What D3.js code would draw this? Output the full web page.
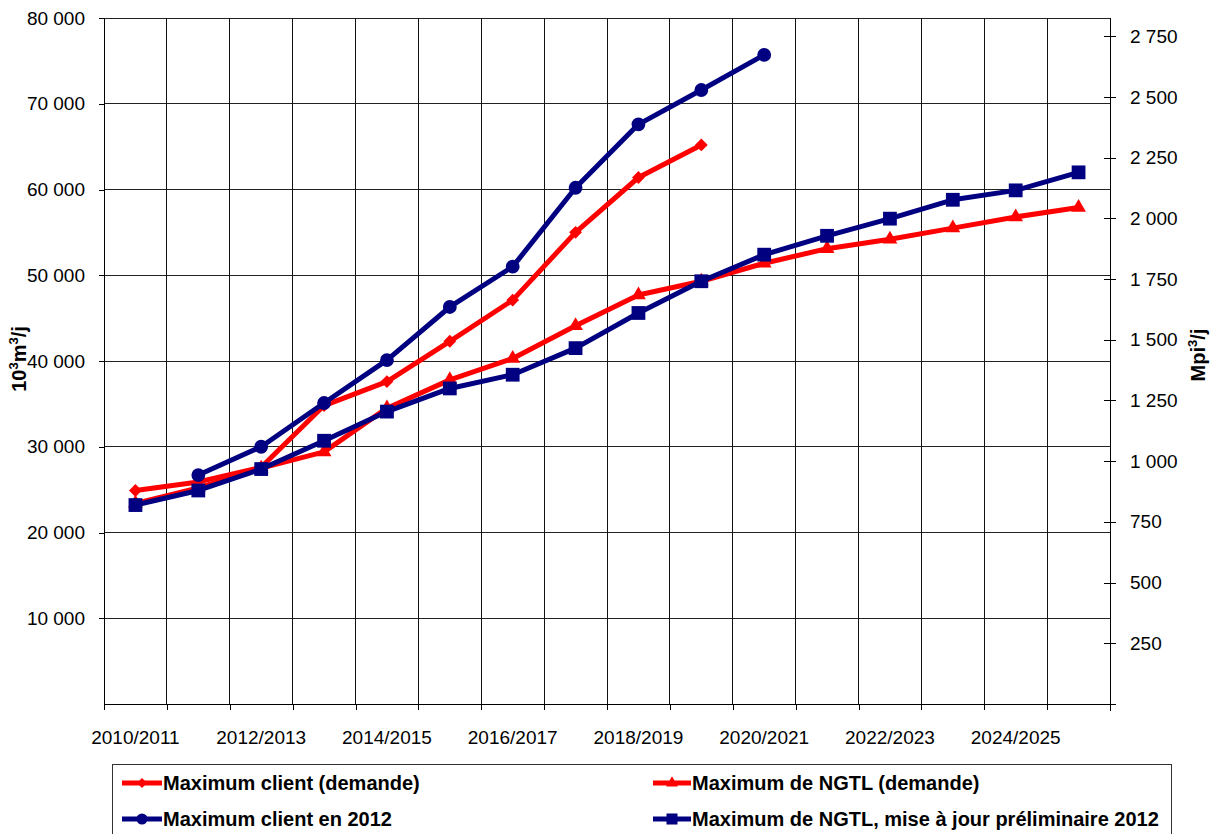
<!DOCTYPE html>
<html>
<head>
<meta charset="utf-8">
<script src="https://cdn.jsdelivr.net/npm/d3@7"></script>
<style>
  body { margin: 0; background: #fff; }
  svg { display: block; font-family: Arial, "Liberation Sans", sans-serif; }
</style>
</head>
<body>
<svg width="1211" height="834"></svg>
<script>
const years = ["2010/2011", "2011/2012", "2012/2013", "2013/2014", "2014/2015", "2015/2016",
  "2016/2017", "2017/2018", "2018/2019", "2019/2020", "2020/2021", "2021/2022",
  "2022/2023", "2023/2024", "2024/2025", "2025/2026"];

// 10^3 m3/j
const clientDemand = [24900, 25900, 27600, 34800, 37600, 42300, 47100, 55000, 61400, 65200];
const ngtlDemand = [23400, 25200, 27500, 29400, 34500, 37800, 40300, 44100, 47700, 49300,
  51400, 53100, 54200, 55500, 56800, 57900];
const client2012 = [null, 26700, 30000, 35100, 40100, 46300, 51000, 60200, 67600, 71600, 75700];
const ngtlUpdate2012 = [23200, 24900, 27400, 30700, 34100, 36800, 38400, 41500, 45600, 49300,
  52400, 54600, 56600, 58800, 59900, 62000];

const leftTicks = [10000, 20000, 30000, 40000, 50000, 60000, 70000, 80000];
const rightTicks = [0, 250, 500, 750, 1000, 1250, 1500, 1750, 2000, 2250, 2500, 2750];
const m3ToMcf = 0.0353147; // 10^3 m3 -> Mpi3

const svg = d3.select("svg");
const plotL = 104, plotR = 1110, plotT = 18, plotB = 704;

const fr = d3.formatLocale({ decimal: ",", thousands: " ", grouping: [3], currency: ["", ""] });
const fmt = fr.format(",");

const x = d3.scaleBand().domain(years).range([plotL, plotR]);
const xi = d3.scaleLinear().domain([0, years.length]).range([plotL, plotR]);
const y = d3.scaleLinear().domain([0, 80000]).range([plotB, plotT]);
const yR = d3.scaleLinear().domain([0, 80000 * m3ToMcf]).range([plotB, plotT]);

svg.append("rect").attr("width", 1211).attr("height", 834).attr("fill", "#fff");

// grid
const grid = svg.append("g").attr("shape-rendering", "crispEdges");
grid.selectAll(".hg")
  .data(leftTicks)
  .join("line")
  .attr("x1", plotL).attr("x2", plotR)
  .attr("y1", d => y(d)).attr("y2", d => y(d))
  .attr("stroke", "#222");
grid.selectAll(".vg")
  .data(d3.range(1, years.length))
  .join("line")
  .attr("x1", d => xi(d)).attr("x2", d => xi(d))
  .attr("y1", plotT).attr("y2", plotB)
  .attr("stroke", "#111");

// left axis
const yAxis = svg.append("g")
  .attr("transform", `translate(${plotL},0)`)
  .call(d3.axisLeft(y).tickValues(leftTicks).tickSize(5).tickPadding(14).tickFormat(fmt));
yAxis.select(".domain").attr("d", `M0,${plotT}V${plotB}`);

// right axis
const yAxisR = svg.append("g")
  .attr("transform", `translate(${plotR},0)`)
  .call(d3.axisRight(yR).tickValues(rightTicks).tickSize(6).tickPadding(14)
    .tickFormat(d => d === 0 ? "" : fmt(d)));
yAxisR.selectAll(".tick line").attr("x1", -6);
yAxisR.select(".domain").attr("d", `M0,${plotT}V${plotB + 7}`);

// bottom axis: tick marks at category boundaries, labels every other year
const xTicks = svg.append("g")
  .attr("transform", `translate(0,${plotB})`)
  .call(d3.axisBottom(xi).ticks(years.length).tickSize(6).tickFormat(""));
xTicks.select(".domain").attr("d", `M${plotL},0H${plotR}`);

svg.append("g")
  .attr("transform", `translate(0,${plotB})`)
  .call(d3.axisBottom(x).tickSize(0).tickPadding(27)
    .tickFormat((d, i) => i % 2 === 0 ? d : ""))
  .call(g => g.select(".domain").remove());

svg.selectAll(".tick text")
  .attr("font-size", 19)
  .attr("font-family", "Arial, 'Liberation Sans', sans-serif")
  .attr("fill", "#000");
svg.selectAll(".domain, .tick line").attr("stroke", "#000").attr("shape-rendering", "crispEdges");

// axis titles
const titleL = svg.append("text")
  .attr("transform", "translate(26,359) rotate(-90)")
  .attr("text-anchor", "middle")
  .attr("font-size", 20).attr("font-weight", "bold");
titleL.append("tspan").text("10");
titleL.append("tspan").attr("dy", -8).attr("font-size", 13).text("3");
titleL.append("tspan").attr("dy", 8).text("m");
titleL.append("tspan").attr("dy", -8).attr("font-size", 13).text("3");
titleL.append("tspan").attr("dy", 8).text("/j");

const titleR = svg.append("text")
  .attr("transform", "translate(1205,355) rotate(-90)")
  .attr("text-anchor", "middle")
  .attr("font-size", 20).attr("font-weight", "bold");
titleR.append("tspan").text("Mpi");
titleR.append("tspan").attr("dy", -8).attr("font-size", 13).text("3");
titleR.append("tspan").attr("dy", 8).text("/j");

// series
const red = "#ff0000", navy = "#000080";
const series = [
  { name: "Maximum client (demande)", values: clientDemand, color: red, shape: "diamond" },
  { name: "Maximum de NGTL (demande)", values: ngtlDemand, color: red, shape: "triangle" },
  { name: "Maximum client en 2012", values: client2012, color: navy, shape: "circle" },
  { name: "Maximum de NGTL, mise à jour préliminaire 2012", values: ngtlUpdate2012, color: navy, shape: "square" }
];

const symbols = {
  diamond: { path: d3.symbol(d3.symbolSquare, 82)(), rotate: 45 },
  triangle: { path: d3.symbol(d3.symbolTriangle, 95)(), rotate: 0 },
  circle: { path: d3.symbol(d3.symbolCircle, 150)(), rotate: 0 },
  square: { path: d3.symbol(d3.symbolSquare, 190)(), rotate: 0 }
};

const cx = (d, i) => x(years[i]) + x.bandwidth() / 2;
const line = d3.line()
  .defined(d => d != null)
  .x(cx)
  .y(d => y(d));

series.forEach(s => {
  const g = svg.append("g");
  g.append("path")
    .datum(s.values)
    .attr("d", line)
    .attr("fill", "none")
    .attr("stroke", s.color)
    .attr("stroke-width", 5)
    .attr("stroke-linejoin", "round");
  g.selectAll("path.mk")
    .data(s.values.map((v, i) => ({ v, i })).filter(d => d.v != null))
    .join("path")
    .attr("class", "mk")
    .attr("d", symbols[s.shape].path)
    .attr("transform", d => `translate(${cx(d.v, d.i)},${y(d.v)}) rotate(${symbols[s.shape].rotate})`)
    .attr("fill", s.color);
});

// legend
const legend = svg.append("g");
legend.append("rect")
  .attr("x", 112).attr("y", 764)
  .attr("width", 1059).attr("height", 90)
  .attr("fill", "#fff").attr("stroke", "#333")
  .attr("shape-rendering", "crispEdges");

const legendPos = [[122, 783], [653, 783], [122, 819], [653, 819]];
series.forEach((s, k) => {
  const [lx, ly] = legendPos[k];
  const w = k % 2 === 0 ? 40 : 38;
  legend.append("line")
    .attr("x1", lx).attr("x2", lx + w)
    .attr("y1", ly).attr("y2", ly)
    .attr("stroke", s.color).attr("stroke-width", 5);
  legend.append("path")
    .attr("d", symbols[s.shape].path)
    .attr("transform", `translate(${lx + w / 2},${ly}) rotate(${symbols[s.shape].rotate}) scale(0.8)`)
    .attr("fill", s.color);
  legend.append("text")
    .attr("x", lx + w + 1).attr("y", ly + 7)
    .attr("font-size", 20).attr("font-weight", "bold")
    .text(s.name);
});
</script>
</body>
</html>
